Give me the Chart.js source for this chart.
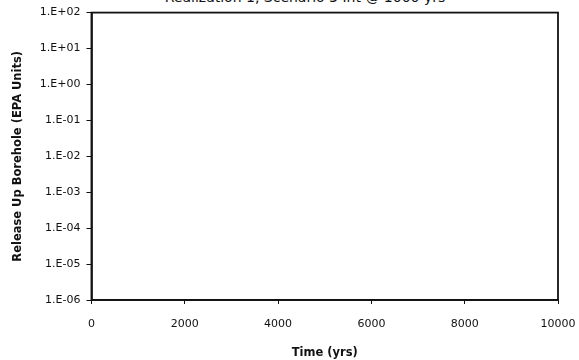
<!DOCTYPE html>
<html>
<head>
<meta charset="utf-8">
<script src="https://cdn.jsdelivr.net/npm/chart.js@4.4.0/dist/chart.umd.min.js"></script>
<style>
  html,body{margin:0;padding:0;background:#fff;overflow:hidden;}
  #wrap{position:relative;width:579px;height:360px;}
  #title{position:absolute;left:0;width:610px;top:-11px;text-align:center;font:14px "DejaVu Sans",sans-serif;color:#111;white-space:nowrap;}
  canvas{position:absolute;left:0;top:0;}
</style>
</head>
<body>
<div id="wrap">
  <div id="title">Realization 1, Scenario 3 Int @ 1000 yrs</div>
  <canvas id="c" width="579" height="360"></canvas>
</div>
<script>
// Data (the reference plot shows no visible series)
const timeYrs = [];
const releaseValues = [];
const xTicks = [0, 2000, 4000, 6000, 8000, 10000];
const yTicks = [1e-6, 1e-5, 1e-4, 1e-3, 1e-2, 1e-1, 1e0, 1e1, 1e2];

function fmtExp(v){
  const e = Math.round(Math.log10(v));
  const s = e < 0 ? '-' : '+';
  return '1.E' + s + String(Math.abs(e)).padStart(2,'0');
}

const frame = {
  id:'frame',
  afterDraw(chart){
    const {ctx, chartArea:a} = chart;
    ctx.save();
    ctx.strokeStyle = '#111';
    ctx.lineWidth = 1.8;
    ctx.strokeRect(a.left, a.top, a.right - a.left, a.bottom - a.top);
    ctx.restore();
  }
};

const tickFont = {family:'"DejaVu Sans", sans-serif', size:11};
const titleFont = {family:'"DejaVu Sans", sans-serif', size:11.5, weight:'bold'};

new Chart(document.getElementById('c'), {
  type:'scatter',
  data:{
    datasets:[{
      label:'Release',
      data: timeYrs.map((t,i)=>({x:t, y:releaseValues[i]})),
      borderColor:'#000',
      backgroundColor:'#000',
      showLine:true,
      pointRadius:0
    }]
  },
  options:{
    responsive:false,
    animation:false,
    layout:{padding:{left:11, right:0, top:12, bottom:0}},
    plugins:{legend:{display:false}, tooltip:{enabled:false}, title:{display:false}},
    scales:{
      x:{
        type:'linear', min:0, max:10000,
        afterBuildTicks(s){ s.ticks = xTicks.map(v=>({value:v})); },
        afterFit(s){ s.paddingRight = 21; },
        ticks:{color:'#111', font:tickFont, padding:14, maxRotation:0, callback:v=>String(v)},
        grid:{display:true, drawOnChartArea:false, color:'#111', tickLength:4, tickWidth:1},
        border:{display:true, color:'#111', width:1.8},
        title:{display:true, text:'Time (yrs)', color:'#111', font:titleFont, padding:{top:1, bottom:0}}
      },
      y:{
        type:'logarithmic', min:1e-6, max:1e2,
        afterBuildTicks(s){ s.ticks = yTicks.map(v=>({value:v})); },
        ticks:{color:'#111', font:tickFont, padding:6, callback:v=>fmtExp(v)},
        grid:{display:true, drawOnChartArea:false, color:'#111', tickLength:5, tickWidth:1},
        border:{display:true, color:'#111', width:1.8},
        title:{display:true, text:'Release Up Borehole (EPA Units)', color:'#111', font:titleFont, padding:{top:0, bottom:9}}
      }
    }
  },
  plugins:[frame]
});
</script>
</body>
</html>
